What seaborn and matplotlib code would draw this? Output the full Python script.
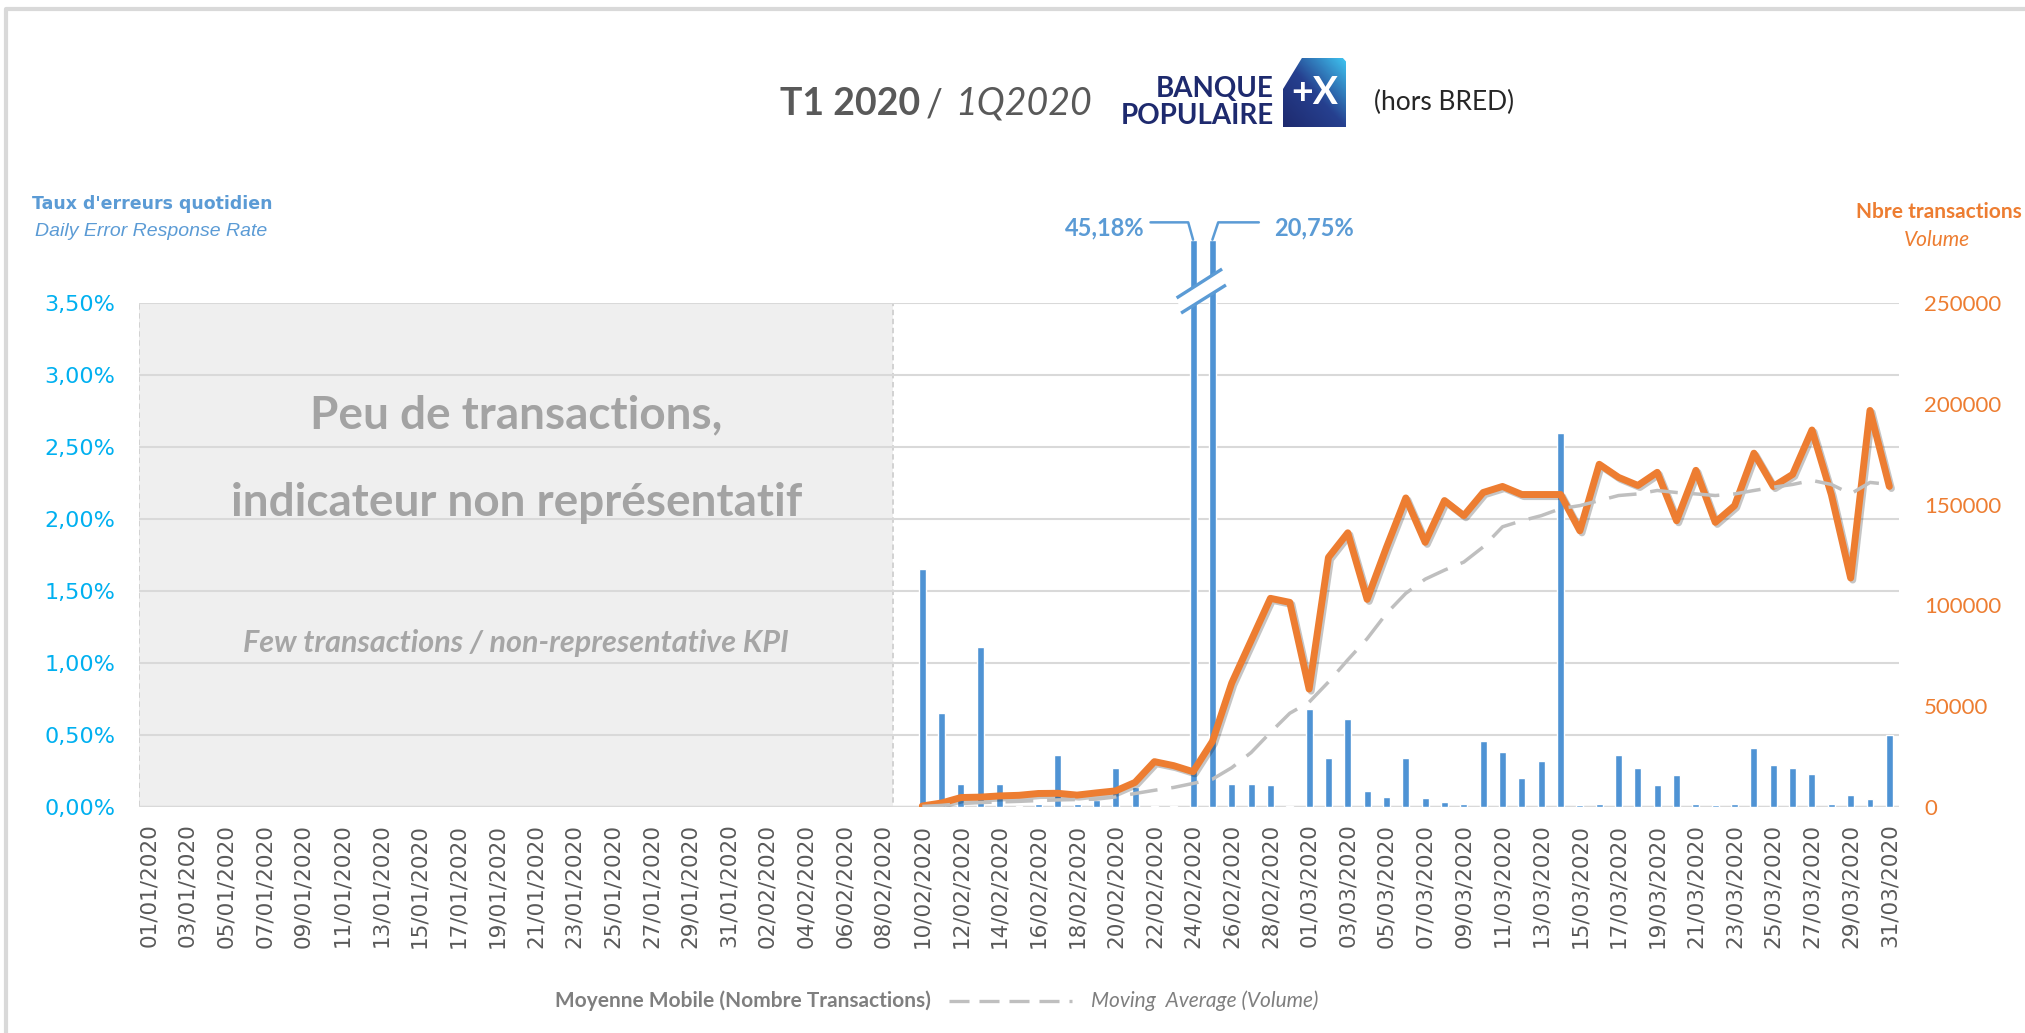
import numpy as np
import pandas as pd
import matplotlib
matplotlib.use("Agg")
import matplotlib.pyplot as plt
import matplotlib.patheffects as pe
from matplotlib.colors import LinearSegmentedColormap
from matplotlib.lines import Line2D
from matplotlib.patches import Polygon, Rectangle
import seaborn as sns

# ---- data ----
dates = pd.date_range("2020-01-01", "2020-03-31", freq="D")
date_labels = list(dates.strftime("%d/%m/%Y"))
first_day = 40          # 10/02/2020 = first day with data
few_tx_last_day = 38    # grey "not representative" zone ends on 08/02

# daily error rate in %, 10/02 -> 31/03
err_rate = [1.65, 0.65, 0.16, 1.11, 0.16, 0.01, 0.02, 0.36, 0.02, 0.05,
            0.27, 0.14, 0.01, 0.01, 45.18, 20.75, 0.16, 0.16, 0.15, 0.01,
            0.68, 0.34, 0.61, 0.11, 0.07, 0.34, 0.06, 0.035, 0.02, 0.46,
            0.38, 0.20, 0.32, 2.60, 0.015, 0.02, 0.36, 0.27, 0.15, 0.22,
            0.02, 0.015, 0.02, 0.41, 0.29, 0.27, 0.23, 0.02, 0.085, 0.055,
            0.50]
# number of transactions
volume = [500, 2000, 4700, 4900, 5500, 5800, 6700, 6800, 5900, 7000,
          8000, 12200, 22500, 20500, 17500, 32500, 61500, 82500, 103500, 101500,
          58500, 123800, 136000, 103000, 128800, 153300, 131300, 152000, 144500, 156000,
          159000, 155000, 155000, 155000, 137000, 170000, 163500, 159500, 166000, 142000,
          167000, 141200, 149500, 175500, 159000, 165000, 187000, 155000, 113600, 196700,
          159000]
# moving average of the volume
moving_avg = [300, 800, 1700, 2200, 2500, 2800, 3200, 3500, 3700, 3900,
              5000, 6700, 8300, 9700, 11700, 13800, 19500, 27000, 37000, 46500,
              52000, 62000, 73000, 83500, 96000, 106000, 113000, 117500, 121500, 129000,
              139000, 142000, 144500, 148000, 149500, 152000, 154500, 155300, 157000, 156000,
              155300, 154500, 155300, 157000, 158600, 160000, 162000, 160000, 155300, 161000,
              160000]

y_ticks_pct = [0, 0.5, 1.0, 1.5, 2.0, 2.5, 3.0, 3.5]
y_ticks_vol = [0, 50000, 100000, 150000, 200000, 250000]

W, H = 2025, 1033
BAR_CAP = 3.94  # bars above the scale are drawn broken at this height

BLUE = "#5b9bd5"
ORANGE = "#ed7d31"
GRID = "#d9d9d9"

df = pd.DataFrame({
    "day": np.arange(first_day, first_day + len(err_rate)),
    "err": err_rate,
    "vol": volume,
    "ma": moving_avg,
})
df["err_shown"] = df["err"].clip(upper=BAR_CAP)


def fx(x):
    return x / W


def fy(y):
    return 1 - y / H


def pct(v):
    return f"{v:.2f}".replace(".", ",") + "%"


sns.set_theme(style="white")
plt.rcParams["font.family"] = ["DejaVu Sans"]

fig = plt.figure(figsize=(W / 100, H / 100), dpi=100)
ax1 = fig.add_axes([fx(139), fy(807), 1760 / W, 504 / H])

# grey zone with few transactions
ax1.add_patch(Rectangle((-0.5, 0), few_tx_last_day + 1, 3.5, facecolor="#efefef",
                        edgecolor="#cfcfcf", ls=(0, (3, 2)), lw=1.3, zorder=0.2))

sns.barplot(data=df, x="day", y="err_shown", native_scale=True, width=0.36,
            color="#4f93d4", saturation=1, errorbar=None, ax=ax1, zorder=2)
for p in ax1.patches[1:]:
    p.set_clip_on(False)

ax2 = ax1.twinx()
sns.lineplot(data=df, x="day", y="vol", ax=ax2, color=ORANGE, lw=5)
ax2.lines[-1].set_path_effects([pe.SimpleLineShadow(offset=(1.5, -1.5), alpha=0.25),
                                pe.Normal()])
sns.lineplot(data=df, x="day", y="ma", ax=ax2, color="#bfbfbf", lw=2.5)
ax2.lines[-1].set_dashes([8, 4])

# axes
ax1.set_xlim(-0.5, 90.5)
ax1.set_ylim(0, 3.5)
ax2.set_ylim(0, 250000)
for a in (ax1, ax2):
    for s in a.spines.values():
        s.set_visible(False)
    a.set_xlabel("")
    a.set_ylabel("")

ax1.set_yticks(y_ticks_pct)
ax1.set_yticklabels([pct(v) for v in y_ticks_pct], fontfamily="DejaVu Sans")
ax2.set_yticks(y_ticks_vol)
ax2.set_yticklabels([str(v) for v in y_ticks_vol], fontfamily="Lato")
ax1.set_xticks(np.arange(0, len(dates), 2))
ax1.set_xticklabels(date_labels[::2], rotation=90)
ax1.set_xticks(np.arange(0, len(dates), 2) - 0.5, minor=True)
ax1.tick_params(axis="x", which="major", length=0, pad=12, labelsize=15.5, labelcolor="#595959")
ax1.tick_params(axis="x", which="minor", length=7, width=1.5, color=GRID)
ax1.tick_params(axis="y", length=0, pad=17, labelsize=16, labelcolor="#00b0f0")
ax2.tick_params(axis="y", length=0, pad=18, labelsize=16, labelcolor=ORANGE)
ax1.grid(axis="y", color=GRID, lw=1.5)
ax1.set_axisbelow(True)
ax1.axhline(0, color=GRID, lw=2.5, zorder=1.5)

# text inside grey zone
cx = (-0.5 + few_tx_last_day + 0.5) / 2
ax1.text(cx, 2.72, "Peu de transactions,", ha="center", va="center", fontfamily="Lato",
         fontweight="bold", fontsize=33, color="#a3a3a3", zorder=3)
ax1.text(cx, 2.11, "indicateur non représentatif", ha="center", va="center", fontfamily="Lato",
         fontweight="bold", fontsize=33, color="#a3a3a3", zorder=3)
ax1.text(cx, 1.14, "Few transactions / non-representative KPI", ha="center", va="center",
         fontfamily="Lato", fontweight="bold", fontstyle="italic", fontsize=22,
         color="#a6a6a6", zorder=3)

# broken bars: break marks and real values
broken = df[df["err"] > BAR_CAP]
b0 = broken["day"].iloc[0]
line1 = [(b0 - 0.85, 3.535), (b0 + 1.5, 3.736)]
line2 = [(b0 - 0.62, 3.43), (b0 + 1.7, 3.625)]
ax1.add_patch(Polygon(line1 + line2[::-1], closed=True, facecolor="white", edgecolor="none",
                      zorder=6, clip_on=False))
for ln in (line1, line2):
    ax1.plot(*zip(*ln), color=BLUE, lw=2.4, zorder=7, clip_on=False, solid_capstyle="butt")

lead_y = BAR_CAP + 0.12
for k, (day, val) in enumerate(zip(broken["day"], broken["err"])):
    if k == 0:
        pts = [(day, BAR_CAP), (day - 0.25, lead_y), (day - 2.2, lead_y)]
        tx, ha = day - 2.5, "right"
    else:
        pts = [(day, BAR_CAP), (day + 0.3, lead_y), (day + 2.4, lead_y)]
        tx, ha = day + 3.2, "left"
    ax1.plot(*zip(*pts), color=BLUE, lw=1.8, clip_on=False, zorder=7)
    ax1.text(tx, lead_y - 0.04, pct(val), ha=ha, va="center", fontfamily="Lato",
             fontweight="bold", fontsize=17, color=BLUE)

# title
fig.text(fx(780), fy(104), "T1 2020", fontfamily="Lato", fontweight="bold", fontsize=27,
         color="#595959", ha="left", va="center")
fig.text(fx(934), fy(106), "/", fontfamily="Lato", fontsize=27, color="#595959",
         ha="center", va="center")
fig.text(fx(955), fy(104), "1Q2020", fontfamily="Lato", fontstyle="italic", fontsize=27,
         color="#595959", ha="left", va="center")

# logo
fig.text(fx(1274), fy(89), "BANQUE", fontfamily="Lato", fontweight="bold", fontsize=20,
         color="#1e2a6e", ha="right", va="center")
fig.text(fx(1274), fy(116), "POPULAIRE", fontfamily="Lato", fontweight="bold", fontsize=20,
         color="#1e2a6e", ha="right", va="center")
lax = fig.add_axes([fx(1283), fy(127), 63 / W, 69 / H])
gx, gy = np.meshgrid(np.linspace(0, 1, 60), np.linspace(0, 1, 60))
logo_cmap = LinearSegmentedColormap.from_list("bp", ["#1e2a6e", "#26408f", "#3ec3f0"])
img = lax.imshow((gx + gy) / 2, cmap=logo_cmap, origin="lower", extent=(0, 1, 0, 1),
                 aspect="auto")
clip = Polygon([(0, 0), (1, 0), (1, 0.95), (0.95, 1), (0.3, 1), (0, 0.55)], closed=True,
               transform=lax.transData, facecolor="none", edgecolor="none")
lax.add_patch(clip)
img.set_clip_path(clip)
lax.text(0.5, 0.5, "+X", color="white", fontfamily="Lato", fontweight="bold", fontsize=27,
         ha="center", va="center")
lax.set_xlim(0, 1)
lax.set_ylim(0, 1)
lax.axis("off")
fig.text(fx(1374), fy(102), "(hors BRED)", fontfamily="Lato", fontsize=19, color="#262626",
         ha="left", va="center")

# axis titles
fig.text(fx(32), fy(204), "Taux d'erreurs quotidien", fontfamily="DejaVu Sans",
         fontweight="bold", fontsize=12.5, color=BLUE, ha="left", va="center")
fig.text(fx(35), fy(231), "Daily Error Response Rate", fontfamily="Liberation Sans",
         fontstyle="italic", fontsize=14, color=BLUE, ha="left", va="center")
fig.text(fx(2022), fy(212), "Nbre transactions", fontfamily="Lato", fontweight="bold",
         fontsize=15, color=ORANGE, ha="right", va="center")
fig.text(fx(1937), fy(240), "Volume", fontfamily="Lato", fontstyle="italic", fontsize=15,
         color=ORANGE, ha="center", va="center")

# legend at the bottom
fig.text(fx(555), fy(1001), "Moyenne Mobile (Nombre Transactions)", fontfamily="Lato",
         fontweight="bold", fontsize=15, color="#7f7f7f", ha="left", va="center")
fig.add_artist(Line2D([fx(949), fx(1072)], [fy(1001), fy(1001)], color="#bfbfbf", lw=2.4,
                      dashes=(6, 3)))
fig.text(fx(1091), fy(1001), "Moving  Average (Volume)", fontfamily="Lato",
         fontstyle="italic", fontsize=15, color="#7f7f7f", ha="left", va="center")

# frame
fig.add_artist(Line2D([fx(6), fx(6), fx(W)], [fy(H), fy(9), fy(9)], color=GRID, lw=3))

fig.savefig("out.png", dpi=100)
